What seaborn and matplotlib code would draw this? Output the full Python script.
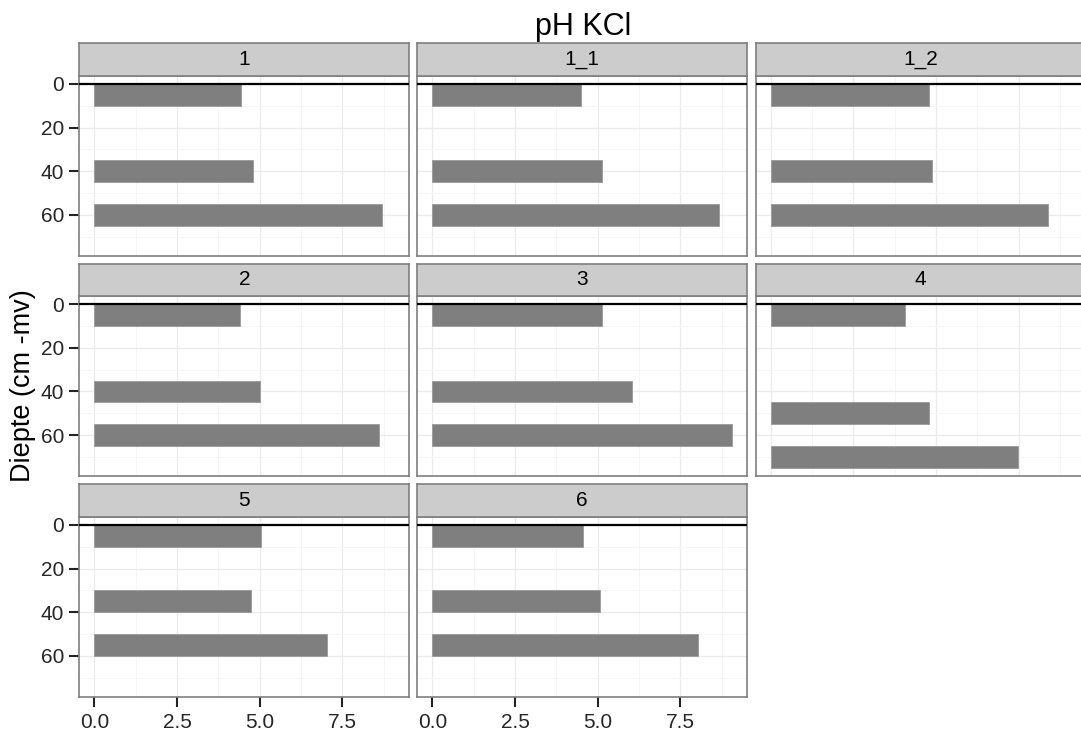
import numpy as np
import pandas as pd
import matplotlib
matplotlib.use("Agg")
import matplotlib.pyplot as plt
import seaborn as sns

# Profile (boring) ids, one facet per profile
panel_ids = ["1", "1_1", "1_2", "2", "3", "4", "5", "6"]

# Depth interval of each sampled layer (cm below ground level)
layer_top = [
    [0, 35, 55], [0, 35, 55], [0, 35, 55], [0, 35, 55],
    [0, 35, 55], [0, 45, 65], [0, 30, 50], [0, 30, 50],
]
layer_bottom = [
    [10, 45, 65], [10, 45, 65], [10, 45, 65], [10, 45, 65],
    [10, 45, 65], [10, 55, 75], [10, 40, 60], [10, 40, 60],
]

# pH-KCl measured in each layer
ph_kcl = [
    [4.44, 4.80, 8.71],
    [4.50, 5.14, 8.67],
    [4.78, 4.89, 8.37],
    [4.42, 5.00, 8.60],
    [5.13, 6.05, 9.07],
    [4.05, 4.78, 7.47],
    [5.03, 4.74, 7.03],
    [4.56, 5.06, 8.04],
]

x_ticks = [0.0, 2.5, 5.0, 7.5]
x_tick_labels = ["0.0", "2.5", "5.0", "7.5"]
y_ticks = [0, 20, 40, 60]
y_tick_labels = ["0", "20", "40", "60"]

rows = []
for pid, tops, bots, vals in zip(panel_ids, layer_top, layer_bottom, ph_kcl):
    for t, b, v in zip(tops, bots, vals):
        rows.append({"profiel": pid, "top": t, "bottom": b,
                     "mid": (t + b) / 2, "ph": v})
df = pd.DataFrame(rows)

sns.set_style("white")
plt.rcParams["font.family"] = ["Liberation Sans", "DejaVu Sans"]

W, H = 1081, 732
fig = plt.figure(figsize=(W / 100, H / 100), dpi=100)


def box(x, y, w, h):
    return [x / W, 1 - (y + h) / H, w / W, h / H]


col_left = [79.3, 417.3, 755.7]
panel_w = 330.0
panel_top = [75.8, 296.0, 516.7]
panel_h = 180.0
strip_h = 32.4

# shared scales
xmax = df["ph"].max()
xpad = xmax * 0.05
ymax = 75
ypad = ymax * 0.05

grey50 = "#7F7F7F"
ncol = 3
nrow = 3

for i, pid in enumerate(panel_ids):
    r, c = divmod(i, ncol)
    ax = fig.add_axes(box(col_left[c], panel_top[r], panel_w, panel_h))
    sub = df[df["profiel"] == pid]
    mids = np.sort(sub["mid"].unique())
    thick = (sub["bottom"] - sub["top"]).iloc[0]
    rel_w = thick / np.min(np.diff(mids))
    sns.barplot(data=sub, x="ph", y="mid", orient="y", native_scale=True,
                width=rel_w, color=grey50, saturation=1, errorbar=None,
                edgecolor="#9A9A9A", linewidth=0.6, ax=ax, zorder=2)
    ax.axhline(0, color="black", lw=1.6, zorder=3)

    ax.set_xlim(-xpad, xmax + xpad)
    ax.set_ylim(ymax + ypad, -ypad)
    ax.set_xticks(x_ticks)
    ax.set_yticks(y_ticks)
    ax.set_xticks([1.25, 3.75, 6.25, 8.75], minor=True)
    ax.set_yticks([10, 30, 50, 70], minor=True)
    ax.grid(True, which="major", color="#EBEBEB", lw=0.9, zorder=0)
    ax.grid(True, which="minor", color="#F6F6F6", lw=0.7, zorder=0)
    ax.set_axisbelow(True)
    ax.set_xlabel("")
    ax.set_ylabel("")
    for s in ax.spines.values():
        s.set_color(grey50)
        s.set_linewidth(1.2)

    ax.tick_params(which="minor", length=0)
    show_x = (r == nrow - 1)
    show_y = (c == 0)
    ax.tick_params(axis="x", which="major", bottom=show_x, length=7,
                   width=1.5, color="#222222", labelsize=15, pad=5,
                   labelbottom=show_x)
    ax.tick_params(axis="y", which="major", left=show_y, length=7,
                   width=1.5, color="#222222", labelsize=15, pad=4,
                   labelleft=show_y)
    if show_x:
        ax.set_xticklabels(x_tick_labels)
    if show_y:
        ax.set_yticklabels(y_tick_labels)

    # facet strip
    sax = fig.add_axes(box(col_left[c], panel_top[r] - strip_h, panel_w, strip_h))
    sax.set_facecolor("#CCCCCC")
    sax.set_xticks([])
    sax.set_yticks([])
    for s in sax.spines.values():
        s.set_color(grey50)
        s.set_linewidth(1.2)
    sax.text(0.5, 0.5, pid, transform=sax.transAxes, ha="center",
             va="center", fontsize=15, color="black")

fig.text(583 / W, 1 - 35 / H, "pH KCl", ha="center", va="baseline",
         fontsize=22, color="black")
fig.text(23 / W, 1 - 386 / H, "Diepte (cm -mv)", rotation=90,
         ha="center", va="center", fontsize=19.5, color="black")

fig.savefig("out.png", dpi=100)
